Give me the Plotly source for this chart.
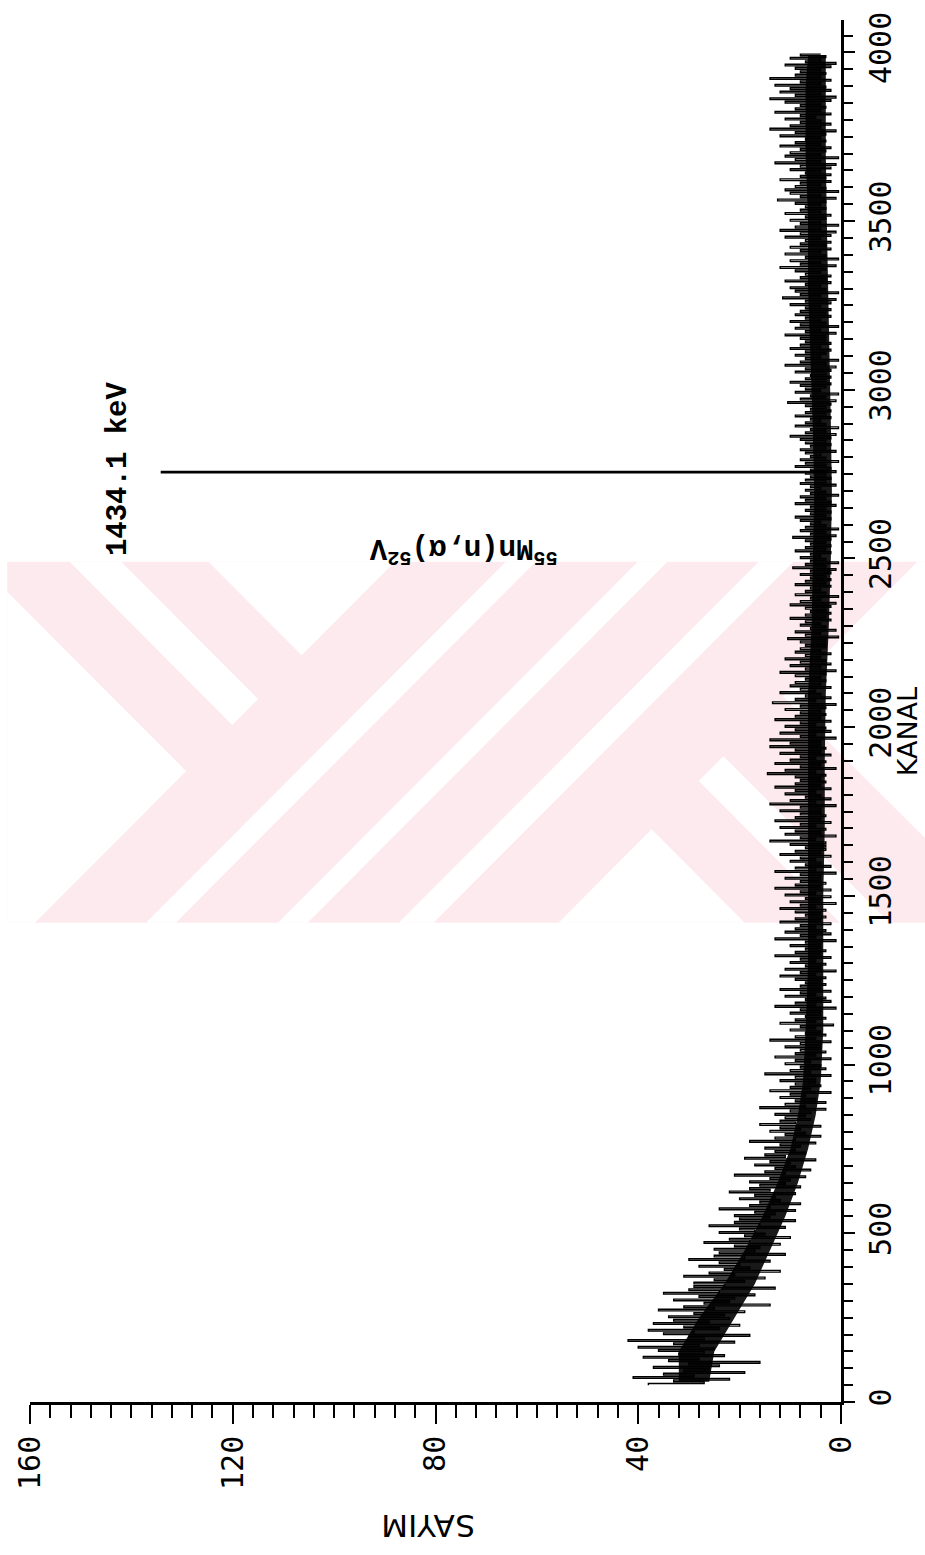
import plotly.graph_objects as go

# ---------------- data ----------------
kanal_start = 50          # first plotted channel
kanal_step = 5            # channel spacing of the listed counts
sayim = [
    38, 27, 33, 22, 41, 29, 35, 19, 31, 26, 37, 24, 30, 16, 34, 28, 39, 23, 32, 27,
    36, 25, 40, 28, 33, 21, 42, 27, 30, 18, 35, 29, 38, 24, 31, 20, 37, 26, 33, 22,
    34, 23, 29, 19, 36, 25, 31, 14, 27, 22, 33, 21, 28, 17, 35, 24, 30, 13, 29, 23,
    29, 19, 25, 15, 31, 21, 26, 12, 23, 18, 28, 20, 24, 14, 30, 19, 25, 11, 24, 17,
    25, 16, 21, 12, 27, 18, 22, 10, 19, 15, 24, 17, 20, 11, 26, 16, 21, 9, 20, 14,
    21, 13, 17, 9, 24, 14, 18, 8, 16, 12, 20, 13, 17, 9, 22, 14, 18, 8, 16, 11,
    18, 10, 14, 7, 21, 11, 15, 6, 13, 9, 17, 10, 14, 5, 19, 11, 15, 7, 13, 9,
    15, 8, 12, 5, 18, 9, 13, 4, 11, 7, 14, 8, 12, 4, 16, 9, 12, 6, 11, 7,
    13, 6, 10, 3, 16, 7, 11, 3, 9, 5, 12, 7, 10, 2, 14, 6, 10, 4, 9, 5,
    12, 5, 9, 2, 15, 6, 10, 3, 8, 4, 11, 6, 9, 2, 13, 5, 9, 3, 8, 4,
    11, 4, 8, 2, 14, 5, 9, 3, 7, 4, 10, 5, 8, 1.5, 12, 5, 9, 3, 7, 4,
    10, 4, 8, 1, 13, 5, 9, 2, 7, 3, 11, 5, 8, 2, 12, 4, 8, 3, 7, 4,
    9, 3, 12, 5, 8, 1, 11, 4, 7, 3, 10, 5, 8, 2, 13, 4, 9, 3, 7, 4,
    10, 4, 7, 1, 13, 5, 8, 2, 11, 3, 9, 5, 8, 2, 12, 4, 9, 3, 7, 4,
    9, 3, 12, 5, 8, 1, 10, 4, 7, 2, 11, 5, 8, 2, 13, 4, 9, 3, 8, 4,
    11, 4, 8, 1, 13, 5, 9, 2, 7, 4, 10, 5, 8, 2, 12, 4, 9, 3, 7, 3,
    10, 3, 14, 5, 8, 1, 11, 4, 9, 3, 12, 5, 8, 2, 13, 4, 9, 3, 8, 4,
    12, 4, 8, 1, 14, 5, 10, 2, 7, 4, 11, 5, 9, 2, 13, 4, 9, 3, 8, 4,
    9, 3, 14.5, 5, 11, 1, 8, 4, 13, 3, 10, 5, 8, 2, 12, 4, 9, 3, 14, 4,
    10, 4, 14, 1, 8, 5, 12, 2, 9, 3, 11, 5, 8, 2, 13, 4, 9, 3, 8, 4,
    11, 3, 8, 1, 13.5, 5, 9, 2, 7, 4, 12, 5, 8, 2, 10, 4, 9, 3, 7, 4,
    9, 3, 12, 1, 7, 4, 10, 2, 8, 3, 11, 4, 7, 2, 9, 4, 8, 3, 7, 3,
    8, 3, 10.5, 0.5, 7, 4, 9, 1, 6, 3, 8, 4, 7, 2, 10, 3, 7, 2, 6, 3,
    7, 2, 10, 1, 8, 4, 6, 0.5, 9, 3, 7, 4, 6, 2, 9, 3, 7, 2, 6, 3,
    8, 2, 6, 1, 9.5, 3, 7, 0.5, 6, 3, 8, 4, 6, 2, 9, 3, 7, 2, 6, 3,
    7, 2, 9.5, 1, 6, 3, 8, 0.5, 7, 3, 6, 4, 8, 2, 9, 3, 6, 2, 7, 3,
    6, 1, 9, 2, 7, 3, 8, 0.5, 6, 3, 7, 4, 6, 1, 8, 3, 7, 2, 6, 3,
    7, 1, 6, 2, 9, 3, 7, 0.5, 8, 3, 6, 4, 7, 1, 8, 3, 6, 2, 7, 3,
    8, 2, 10, 1, 7, 3, 6, 0.5, 9, 3, 7, 4, 6, 2, 9, 3, 7, 2, 6, 3,
    7, 2, 10.5, 1, 8, 3, 6, 0.5, 9, 4, 7, 3, 8, 2, 10, 3, 7, 2, 6, 3,
    9, 2, 7, 1, 11, 3, 8, 0.5, 7, 4, 9, 3, 7, 2, 10, 4, 8, 2, 7, 3,
    8, 3, 11, 1, 7, 4, 9, 0.5, 8, 3, 10, 4, 7, 2, 9, 3, 8, 2, 7, 4,
    10, 2, 7, 1, 11.5, 4, 8, 0.5, 9, 3, 10, 4, 7, 2, 11, 3, 8, 2, 7, 4,
    9, 3, 12, 1, 8, 4, 10, 0.5, 7, 3, 11, 4, 8, 2, 10, 3, 8, 2, 7, 4,
    11, 2, 8, 1, 12, 4, 9, 0.5, 8, 4, 10, 3, 7, 2, 11, 4, 8, 3, 7, 4,
    9, 3, 12.5, 1, 8, 4, 10, 0.5, 11, 3, 9, 4, 8, 2, 12, 3, 8, 2, 7, 4,
    10, 2, 8, 1, 13, 4, 9, 0.5, 11, 4, 10, 3, 8, 2, 12, 4, 9, 3, 7, 4,
    12, 3, 9, 1, 14, 4, 10, 2, 8, 4, 11, 5, 8, 2, 13, 4, 9, 3, 8, 4,
    11, 2, 14, 1, 9, 4, 12, 2, 10, 3, 13, 4, 8, 2, 14, 4, 9, 3, 8, 4,
    9, 2, 11, 1, 7, 4, 10, 3, 8, 4,
]
kanal = [kanal_start + kanal_step * i for i in range(len(sayim))]

# dense core of the noise band
bant_kanal = [60, 150, 250, 350, 450, 550, 650, 750, 850, 950, 1100, 1300, 1500,
              1700, 1900, 2100, 2300, 2500, 2700, 2900, 3100, 3300, 3500, 3700, 3900, 3990]
bant_alt = [26, 25, 21, 17, 14, 11, 8.5, 6.5, 5, 4, 3.5, 3.5, 3.5,
            3.2, 3.2, 3, 2.4, 2, 1.8, 2, 2.3, 2.5, 2.8, 3, 3, 3]
bant_ust = [32, 32, 28, 23, 19, 15.5, 12.5, 10, 8.5, 7.5, 7, 6.5, 6.5,
            6.5, 6.5, 6.5, 5.8, 5.5, 5.3, 5.6, 6, 6.5, 6.5, 7, 7, 6.5]

# photopeak
pik_kanal = [2753, 2755, 2757]
pik_sayim = [3, 134, 3]

sayim_ticks = [0, 40, 80, 120, 160]
kanal_ticks = [0, 500, 1000, 1500, 2000, 2500, 3000, 3500, 4000]

# ---------------- layout geometry ----------------
W, H = 925, 1555
ML, MR, MT, MB = 23, 84, 12, 153
PW, PH = W - ML - MR, H - MT - MB


def pp(px, py):
    return ((px - ML) / PW, (H - MB - py) / PH)


def path(points):
    s = ""
    for i, (x, y) in enumerate(points):
        a, b = pp(x, y)
        s += ("M" if i == 0 else "L") + f"{a:.5f},{b:.5f} "
    return s + "Z"


pink = "#fdeaee"
white_polys = [
    [(63, 557), (115, 557), (253, 695), (227, 721)],
    [(0, 587), (180.5, 767.5), (28, 920), (0, 920)],
    [(203, 557), (391, 557), (297, 651)],
    [(140, 920), (170, 920), (533, 557), (503, 557)],
    [(273, 920), (303, 920), (666, 557), (636, 557)],
    [(395, 920), (430, 920), (793, 557), (758, 557)],
    [(556, 920), (650, 826), (744, 920)],
    [(697.5, 777.5), (722.5, 752.5), (890, 920), (840, 920)],
    [(918, 557), (926, 557), (926, 835), (782.5, 692.5)],
]
shapes = [dict(type="path", xref="paper", yref="paper", layer="below",
               path=path([(0, 557), (926, 557), (926, 920), (0, 920)]),
               fillcolor=pink, line=dict(width=0))]
for poly in white_polys:
    shapes.append(dict(type="path", xref="paper", yref="paper", layer="below",
                       path=path(poly), fillcolor="white", line=dict(width=0)))

fig = go.Figure()
fig.add_trace(go.Scatter(
    x=bant_alt + bant_ust[::-1], y=bant_kanal + bant_kanal[::-1],
    fill="toself", fillcolor="rgba(0,0,0,0.9)", line=dict(width=0), mode="lines",
    hoverinfo="skip", showlegend=False))
fig.add_trace(go.Scatter(x=sayim, y=kanal, mode="lines",
                         line=dict(color="black", width=1.4, shape="vh"),
                         showlegend=False))
fig.add_trace(go.Scatter(x=pik_sayim, y=pik_kanal, mode="lines",
                         line=dict(color="black", width=2.2, shape="vh"),
                         showlegend=False))

tickfont = dict(family="DejaVu Sans Mono", size=30, color="black")
fig.update_layout(
    width=W, height=H, autosize=False,
    margin=dict(l=ML, r=MR, t=MT, b=MB, pad=0),
    paper_bgcolor="white", plot_bgcolor="rgba(0,0,0,0)",
    showlegend=False, shapes=shapes,
    xaxis=dict(range=[160, 0], tickmode="array", tickvals=sayim_ticks,
               ticktext=[str(v) for v in sayim_ticks],
               ticks="outside", ticklen=19, tickwidth=2, tickcolor="black",
               minor=dict(tickmode="linear", tick0=0, dtick=4, ticks="outside",
                          ticklen=13, tickwidth=2, tickcolor="black"),
               showline=True, linewidth=2.5, linecolor="black",
               showgrid=False, zeroline=False, tickangle=-90, tickfont=tickfont),
    yaxis=dict(range=[0, 4096], side="right", tickmode="array", tickvals=kanal_ticks,
               ticktext=[str(v) for v in kanal_ticks],
               ticks="outside", ticklen=11, tickwidth=2, tickcolor="black",
               minor=dict(tickmode="linear", tick0=0, dtick=50, ticks="outside",
                          ticklen=9, tickwidth=2, tickcolor="black"),
               showline=True, linewidth=2.5, linecolor="black",
               showgrid=False, zeroline=False, tickangle=-90, tickfont=tickfont),
)

kx, ky = pp(908, 728)
sx, sy = pp(425, 1526)
fig.add_annotation(x=kx, y=ky, xref="paper", yref="paper", text="KANAL",
                   textangle=-90, showarrow=False, xanchor="center", yanchor="middle",
                   font=dict(family="DejaVu Sans", size=27, color="black"))
fig.add_annotation(x=sx, y=sy, xref="paper", yref="paper", text="SAYIM",
                   textangle=180, showarrow=False, xanchor="center", yanchor="middle",
                   font=dict(family="DejaVu Sans", size=31, color="black"))
fig.add_annotation(x=142.5, y=2767, xref="x", yref="y", text="<b>1434.1 keV</b>",
                   textangle=-90, showarrow=False, xanchor="center", yanchor="middle",
                   font=dict(family="Liberation Mono", size=29, color="black"))
fig.add_annotation(x=74.5, y=2523, xref="x", yref="y",
                   text="<b><sup>55</sup>Mn(n,α)<sup>52</sup>V</b>",
                   textangle=180, showarrow=False, xanchor="center", yanchor="middle",
                   font=dict(family="Liberation Mono", size=29, color="black"))

fig.write_html("out.html")
